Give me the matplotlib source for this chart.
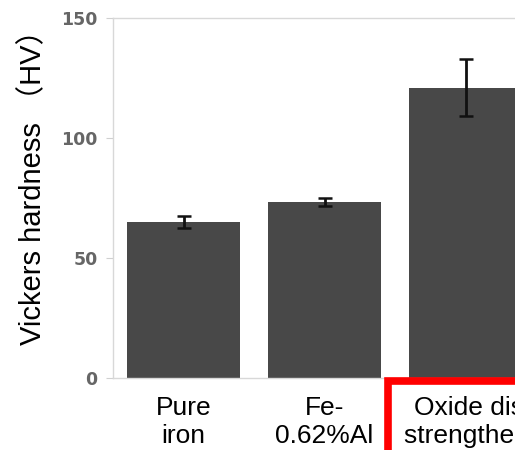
import matplotlib.pyplot as plt
from matplotlib.patches import Rectangle
import matplotlib.transforms as mtransforms

categories = ['Pure\niron', 'Fe-\n0.62%Al', 'Oxide dispersion\nstrengthened steel']
hardness = [65.0, 73.5, 121.0]
hardness_err = [2.5, 1.7, 12.0]
yticks = [0, 50, 100, 150]

fig = plt.figure(figsize=(5.15, 4.5), dpi=100)
# axes box runs past the right edge of the picture (the reference is cropped)
ax = fig.add_axes([113 / 515, 72 / 450, 423 / 515, 360 / 450])

x = range(len(categories))
ax.bar(x, hardness, width=0.8, color='#484848',
       yerr=hardness_err, capsize=5,
       error_kw=dict(ecolor='#111111', elinewidth=2, capthick=1.8))

ax.set_xlim(-0.5, 2.5)
ax.set_ylim(0, 150)
ax.set_yticks(yticks)
ax.set_yticklabels([str(v) for v in yticks], fontsize=12.5, fontweight='bold',
                   color='#666666', family='DejaVu Sans')
ax.tick_params(axis='y', length=5, width=0.8, color='#d0d0d0', pad=6)

ax.set_xticks(list(x))
ax.set_xticklabels(categories, fontsize=19, family='Liberation Sans',
                   linespacing=1.2)
ax.tick_params(axis='x', length=0, pad=13)
# third label sits a bit to the right of its bar
lbl = ax.get_xticklabels()[2]
lbl.set_transform(lbl.get_transform() +
                  mtransforms.ScaledTranslation(47 / 100, 0, fig.dpi_scale_trans))

for s in ax.spines.values():
    s.set_color('#d8d8d8')
    s.set_linewidth(1)

ax.set_ylabel('Vickers hardness （HV）', fontsize=21,
              family=['Liberation Sans', 'Noto Sans CJK JP'])
ax.yaxis.set_label_coords(-0.155, 0.55)

# red highlight box around the third label
fig.patches.append(Rectangle((387.5 / 515, -0.3), 1.0, 0.3 + 69.5 / 450,
                             transform=fig.transFigure, fill=False,
                             edgecolor='#ff0000', linewidth=5.5))

fig.savefig('out.png', dpi=100)
